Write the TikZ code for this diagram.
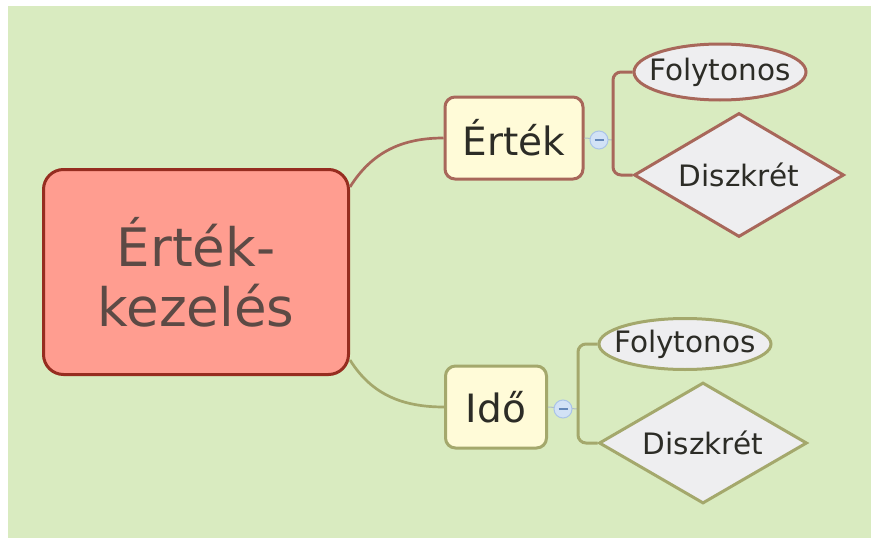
\documentclass[tikz,border=0pt]{standalone}
\usepackage{fontspec}
\setmainfont{DejaVu Sans}
\usetikzlibrary{shapes.geometric}

\definecolor{bggreen}{RGB}{217,235,192}
\definecolor{rootfill}{RGB}{255,157,144}
\definecolor{rootline}{RGB}{150,45,32}
\definecolor{roottext}{RGB}{92,74,69}
\definecolor{childfill}{RGB}{255,251,216}
\definecolor{brownline}{RGB}{168,103,90}
\definecolor{oliveline}{RGB}{164,168,108}
\definecolor{labeltext}{RGB}{44,44,38}
\definecolor{leaffill}{RGB}{238,238,240}
\definecolor{minusfill}{RGB}{210,226,246}
\definecolor{minusline}{RGB}{170,196,232}
\definecolor{minusdash}{RGB}{100,136,186}
\definecolor{stubcol}{RGB}{175,190,200}

% label whose width does not enlarge its shape
\newcommand{\flatlabel}[1]{\makebox[0pt][c]{#1}}

\tikzset{
  rootbox/.style={draw=rootline, fill=rootfill, line width=3pt, rounded corners=20pt,
    minimum width=305pt, minimum height=205pt, inner sep=0pt, align=center,
    text=roottext, font=\fontsize{53}{60}\selectfont},
  childbox/.style={fill=childfill, line width=3pt, rounded corners=10pt,
    minimum height=82pt, inner sep=0pt, text=labeltext, font=\fontsize{39}{44}\selectfont},
  leafoval/.style={ellipse, fill=leaffill, line width=3pt, inner sep=0pt,
    text=labeltext, font=\fontsize{29.5}{34}\selectfont},
  leafdiamond/.style={diamond, fill=leaffill, line width=3pt, inner sep=0pt,
    text=labeltext, font=\fontsize{29.5}{34}\selectfont},
  rootlink/.style={line width=2.7pt},
  bracket/.style={line width=3pt, rounded corners=8pt},
  stub/.style={draw=stubcol, line width=1pt},
  minusbtn/.style={circle, draw=minusline, fill=minusfill, line width=1pt,
    minimum size=18pt, inner sep=0pt,
    path picture={\draw[minusdash, line width=1.4pt]
      ([xshift=-4.5pt]path picture bounding box.center) --
      ([xshift=4.5pt]path picture bounding box.center);}}
}

\begin{document}
\begin{tikzpicture}[x=1pt,y=1pt]
  % canvas: white frame on the left and top, green sheet
  \fill[white] (0,0) rectangle (871,-538);
  \fill[bggreen] (8,-6) rectangle (871,-538);
  \path[use as bounding box] (0,0) rectangle (871,-538);

  % central topic
  \node[rootbox] (m) at (196,-272) {Érték-\\kezelés};

  % main branches
  \node[childbox, draw=brownline, minimum width=138pt] (v) at (514,-138) {Érték};
  \node[childbox, draw=oliveline, minimum width=101pt] (i) at (496,-407) {Idő};

  % sub-topics of Érték
  \node[leafoval, draw=brownline, minimum width=172pt, minimum height=56pt] (f1) at (720,-72) {\flatlabel{Folytonos}};
  \node[leafdiamond, draw=brownline, minimum width=210pt, minimum height=124pt] (d1) at (739,-175) {\flatlabel{Diszkrét}};

  % sub-topics of Idő
  \node[leafoval, draw=oliveline, minimum width=172pt, minimum height=51pt] (f2) at (685,-344) {\flatlabel{Folytonos}};
  \node[leafdiamond, draw=oliveline, minimum width=208pt, minimum height=121pt] (d2) at (703,-443) {\flatlabel{Diszkrét}};

  % bracket junctions
  \coordinate (b1) at (613,-140);
  \coordinate (b2) at (578,-409);

  % links from the central topic
  \draw[rootlink, draw=brownline] ([yshift=-19pt]m.north east) to[out=58,in=180] (v.west);
  \draw[rootlink, draw=oliveline] ([yshift=16pt]m.south east) to[out=-58,in=180] (i.west);

  % stubs from branches to brackets
  \draw[stub] (v.east) -- (b1);
  \draw[stub] (i.east) -- (b2);

  % brackets to sub-topics
  \draw[bracket, draw=brownline] (f1.west) -| (b1) |- (d1.west);
  \draw[bracket, draw=oliveline] (f2.west) -| (b2) |- (d2.west);

  % collapse buttons
  \node[minusbtn] (c1) at (599,-140) {};
  \node[minusbtn] (c2) at (563,-409) {};
\end{tikzpicture}
\end{document}
